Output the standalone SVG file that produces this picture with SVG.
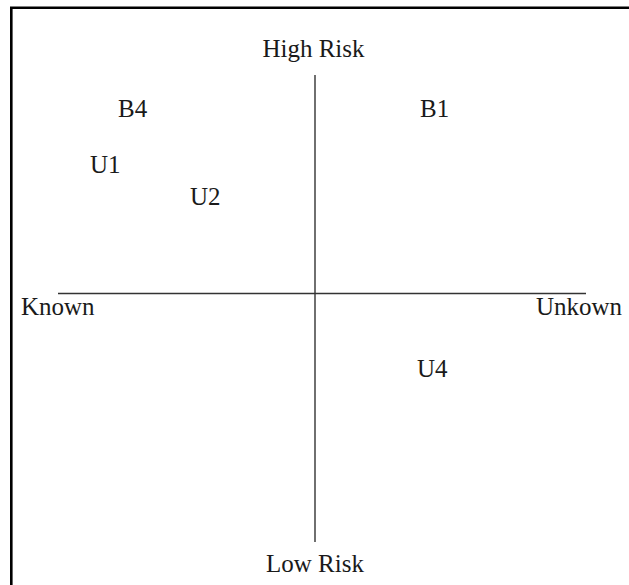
<svg xmlns="http://www.w3.org/2000/svg" width="629" height="585" viewBox="0 0 629 585">
<style>
text{font-family:"Liberation Serif","Times New Roman",serif;font-size:25px;fill:#1a1a1a}
.axis{stroke:#333;stroke-width:1.4;fill:none}
.frame{stroke:#000;stroke-width:2.6;fill:none}
</style>
<rect width="629" height="585" fill="#fff"/>
<path class="frame" d="M11.3,585 V7.8 H629"/>
<g id="connectors">
<line class="axis" x1="315" y1="75" x2="315" y2="542"/>
<line class="axis" x1="58" y1="293.5" x2="586" y2="293.5"/>
</g>
<g id="high-risk"><text x="313.5" y="57" text-anchor="middle">High Risk</text></g>
<g id="low-risk"><text x="315" y="572" text-anchor="middle">Low Risk</text></g>
<g id="known"><text x="21" y="315">Known</text></g>
<g id="unknown"><text x="622" y="315" text-anchor="end">Unkown</text></g>
<g id="B4"><text x="118" y="117">B4</text></g>
<g id="B1"><text x="420" y="117">B1</text></g>
<g id="U1"><text x="90" y="173">U1</text></g>
<g id="U2"><text x="190" y="205">U2</text></g>
<g id="U4"><text x="417" y="377">U4</text></g>
</svg>
